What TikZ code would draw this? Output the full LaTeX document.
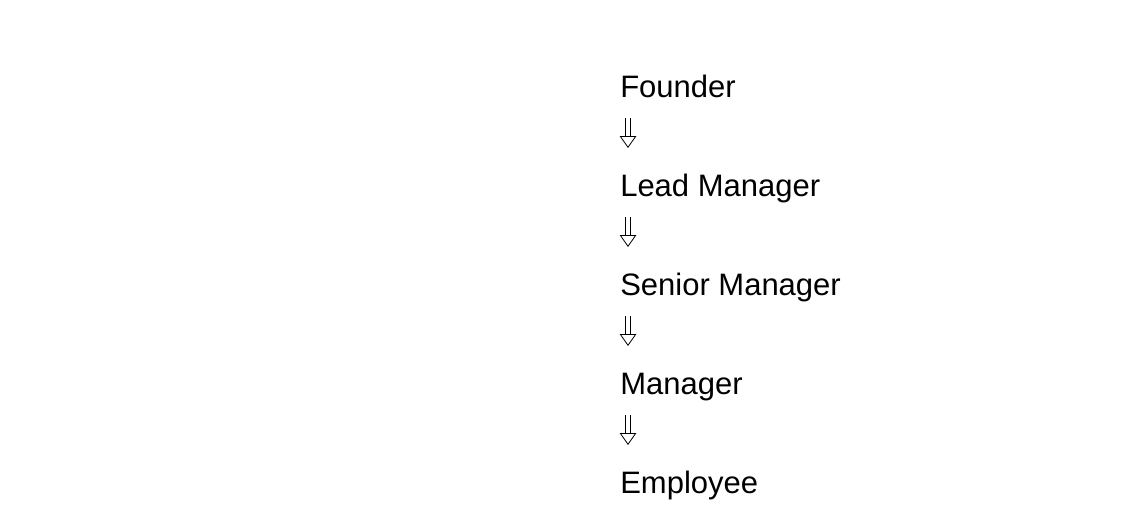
\documentclass[tikz,border=0pt]{standalone}
\usepackage{fontspec}
\setmainfont{Liberation Sans}
\usetikzlibrary{calc,arrows.meta}
\begin{document}
\begin{tikzpicture}[x=0.75pt, y=-0.75pt, every node/.style={anchor=base west,inner sep=0pt,font=\fontsize{23.25}{28}\selectfont}, flow/.style={line width=0.6pt,double,double distance=3.4pt,-{Triangle[open,width=12.5pt,length=9pt,line width=0.6pt]}}]
			\useasboundingbox (0,0) rectangle (1142,515);
			\node (founder) at (620,97) {Founder};
			\node (lead) at (620,196) {Lead Manager};
			\node (senior) at (620,295) {Senior Manager};
			\node (manager) at (620,394) {Manager};
			\node (employee) at (620,493) {Employee};
			\draw[flow] ($(founder.base west)+(8,21)$) -- ($(lead.base west)+(8,-48)$);
			\draw[flow] ($(lead.base west)+(8,21)$) -- ($(senior.base west)+(8,-48)$);
			\draw[flow] ($(senior.base west)+(8,21)$) -- ($(manager.base west)+(8,-48)$);
			\draw[flow] ($(manager.base west)+(8,21)$) -- ($(employee.base west)+(8,-48)$);
		\end{tikzpicture}
\end{document}
